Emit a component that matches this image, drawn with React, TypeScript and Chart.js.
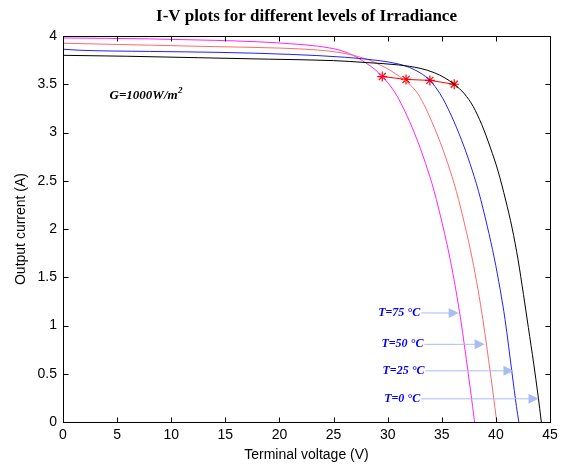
import React, { useEffect, useRef } from 'react';
import { Chart, registerables } from 'chart.js';

Chart.register(...registerables);

// ---- data ----
const xTickValues = [0, 5, 10, 15, 20, 25, 30, 35, 40, 45];
const yTickValues = [0, 0.5, 1, 1.5, 2, 2.5, 3, 3.5, 4];

// T = 0 °C (black)
const vT0 = [0, 6, 12.5, 19, 25, 28, 31, 33, 34.3, 35.3, 36.15, 37.1, 37.9, 38.7, 39.5, 40.2, 40.9, 41.5, 42.05, 42.55, 43.0, 43.5, 43.9, 44.2];
const iT0 = [3.8, 3.79, 3.775, 3.76, 3.745, 3.725, 3.7, 3.665, 3.62, 3.565, 3.5, 3.4, 3.27, 3.08, 2.84, 2.6, 2.3, 2.01, 1.68, 1.32, 0.98, 0.6, 0.27, 0];

// T = 25 °C (blue)
const vT25 = [0, 1.4, 8, 14.6, 20.9, 26, 29.2, 31, 32, 32.9, 33.5, 33.9, 34.85, 35.9, 36.8, 37.6, 38.4, 39.2, 39.85, 40.4, 40.85, 41.5, 41.9, 42.12];
const iT25 = [3.863, 3.853, 3.84, 3.83, 3.81, 3.78, 3.745, 3.71, 3.675, 3.625, 3.58, 3.54, 3.4, 3.17, 2.93, 2.68, 2.39, 2.03, 1.7, 1.37, 1.06, 0.5, 0.16, 0];

// T = 50 °C (red)
const vT50 = [0, 8, 14, 20, 23.5, 25.5, 27, 28.3, 29.3, 30.3, 31.1, 31.7, 32.3, 32.8, 33.35, 33.85, 34.75, 35.55, 36.35, 37.15, 37.8, 38.35, 38.8, 39.5, 39.9, 40.08];
const iT50 = [3.925, 3.905, 3.89, 3.875, 3.855, 3.83, 3.795, 3.75, 3.7, 3.64, 3.58, 3.53, 3.47, 3.4, 3.29, 3.17, 2.93, 2.68, 2.39, 2.03, 1.7, 1.37, 1.06, 0.5, 0.16, 0];

// T = 75 °C (magenta)
const vT75 = [0, 8, 14, 18, 21, 23.5, 25.5, 26.8, 28, 28.8, 29.5, 30.7, 31.8, 32.7, 33.5, 34.3, 35.1, 35.75, 36.3, 36.75, 37.45, 37.85, 38.03];
const iT75 = [3.98, 3.97, 3.955, 3.94, 3.92, 3.895, 3.855, 3.8, 3.72, 3.655, 3.58, 3.41, 3.17, 2.93, 2.68, 2.39, 2.03, 1.7, 1.37, 1.06, 0.5, 0.16, 0];

// maximum power points
const vMpp = [29.5, 31.7, 33.9, 36.15];
const iMpp = [3.58, 3.55, 3.54, 3.5];

const tempLabels = ['T=75 °C', 'T=50 °C', 'T=25 °C', 'T=0 °C'];
const tempLabelEndV = [33.0, 33.3, 33.4, 33.0];
const tempLabelI = [1.13, 0.805, 0.53, 0.24];
const tempArrowTipV = [36.56, 38.96, 41.63, 43.94];

const titleText = 'I-V plots for different levels of Irradiance';
const xTitle = 'Terminal voltage (V)';
const yTitle = 'Output current (A)';
const irrText = 'G=1000W/m';
const irrPos = { v: 4.3, i: 3.38 };

const pts = (vs: number[], is: number[]) => vs.map((v, k) => ({ x: v, y: is[k] }));

const SANS = '"Liberation Sans", Arial, sans-serif';
const SERIF = '"Liberation Serif", "Times New Roman", serif';

const decorPlugin = {
  id: 'decor',
  afterDraw(chart: any) {
    const { ctx, chartArea, scales } = chart;
    const xs = scales.x;
    const ys = scales.y;
    const { left, right, top, bottom } = chartArea;
    ctx.save();
    // title
    ctx.fillStyle = '#000';
    ctx.font = `bold 17px ${SERIF}`;
    ctx.textAlign = 'center';
    ctx.textBaseline = 'middle';
    ctx.fillText(titleText, (left + right) / 2, 17);

    // frame
    ctx.strokeStyle = '#000';
    ctx.lineWidth = 1;
    const L = Math.round(left) + 0.5, R = Math.round(right) + 0.5, T = Math.round(top) + 0.5, B = Math.round(bottom) + 0.5;
    ctx.strokeRect(L, T, R - L, B - T);
    ctx.beginPath();
    xTickValues.forEach((v) => {
      const px = Math.round(xs.getPixelForValue(v)) + 0.5;
      ctx.moveTo(px, B); ctx.lineTo(px, B - 5);
      ctx.moveTo(px, T); ctx.lineTo(px, T + 5);
    });
    yTickValues.forEach((v) => {
      const py = Math.round(ys.getPixelForValue(v)) + 0.5;
      ctx.moveTo(L, py); ctx.lineTo(L + 5, py);
      ctx.moveTo(R, py); ctx.lineTo(R - 5, py);
    });
    ctx.stroke();

    // irradiance text
    const gx = xs.getPixelForValue(irrPos.v);
    const gy = ys.getPixelForValue(irrPos.i);
    ctx.font = `bold italic 13px ${SERIF}`;
    ctx.textAlign = 'left';
    ctx.textBaseline = 'middle';
    ctx.fillStyle = '#000';
    ctx.fillText(irrText, gx, gy);
    const w = ctx.measureText(irrText).width;
    ctx.font = `bold italic 9px ${SERIF}`;
    ctx.fillText('2', gx + w + 0.5, gy - 5);

    // temperature labels + arrows
    tempLabels.forEach((lab, k) => {
      const ex = xs.getPixelForValue(tempLabelEndV[k]);
      const py = ys.getPixelForValue(tempLabelI[k]);
      const tx = xs.getPixelForValue(tempArrowTipV[k]);
      ctx.font = `bold italic 12px ${SERIF}`;
      ctx.fillStyle = '#0000ff';
      ctx.textAlign = 'right';
      ctx.textBaseline = 'middle';
      ctx.fillText(lab, ex, py);
      ctx.strokeStyle = '#a9bdf5';
      ctx.fillStyle = '#a9bdf5';
      ctx.lineWidth = 1;
      ctx.beginPath();
      ctx.moveTo(ex + 1, py);
      ctx.lineTo(tx - 9, py);
      ctx.stroke();
      ctx.beginPath();
      ctx.moveTo(tx, py);
      ctx.lineTo(tx - 10, py - 5);
      ctx.lineTo(tx - 10, py + 5);
      ctx.closePath();
      ctx.fill();
    });
    ctx.restore();
  },
};

export default function App() {
  const ref = useRef<HTMLCanvasElement>(null);
  useEffect(() => {
    document.body.style.margin = '0';
    const tickFont = { family: SANS, size: 14 };
    const curve = { showLine: true, borderWidth: 1, pointRadius: 0, cubicInterpolationMode: 'monotone' };
    const chart = new Chart(ref.current as HTMLCanvasElement, {
      type: 'scatter',
      data: {
        datasets: [
          { label: 'T=0', data: pts(vT0, iT0), borderColor: '#000000', ...curve },
          { label: 'T=25', data: pts(vT25, iT25), borderColor: '#2020ff', ...curve },
          { label: 'T=50', data: pts(vT50, iT50), borderColor: '#ff6a6a', ...curve },
          { label: 'T=75', data: pts(vT75, iT75), borderColor: '#ff22ff', ...curve },
          {
            label: 'MPP', data: pts(vMpp, iMpp), showLine: true, borderColor: '#ff0000', borderWidth: 1,
            pointStyle: 'star', pointRadius: 5, pointBorderColor: '#ff0000', pointBorderWidth: 1.2, pointBackgroundColor: '#ff0000',
          },
        ],
      },
      options: {
        animation: false,
        responsive: false,
        events: [],
        layout: { padding: { top: 36, right: 13, bottom: 0, left: 0 } },
        plugins: { legend: { display: false }, tooltip: { enabled: false }, title: { display: false } },
        scales: {
          x: {
            type: 'linear', min: 0, max: 45,
            ticks: { stepSize: 5, font: tickFont, color: '#000', padding: 5, maxRotation: 0, callback: (v: any) => String(v) },
            grid: { display: false, drawTicks: false },
            border: { display: false },
            title: { display: true, text: xTitle, font: { family: SANS, size: 14 }, color: '#000', padding: { top: 0, bottom: 0 } },
            afterFit: (s: any) => { s.height = 42; },
          },
          y: {
            type: 'linear', min: 0, max: 4,
            ticks: { stepSize: 0.5, font: tickFont, color: '#000', padding: 6, callback: (v: any) => String(v) },
            grid: { display: false, drawTicks: false },
            border: { display: false },
            title: { display: true, text: yTitle, font: { family: SANS, size: 14 }, color: '#000', padding: { top: 13, bottom: 0 } },
            afterFit: (s: any) => { s.width = 63; },
          },
        },
      },
      plugins: [decorPlugin],
    } as any);
    return () => chart.destroy();
  }, []);
  return (
    <div style={{ width: 563, height: 464, background: '#fff' }}>
      <canvas ref={ref} width={563} height={464} style={{ display: 'block' }} />
    </div>
  );
}
